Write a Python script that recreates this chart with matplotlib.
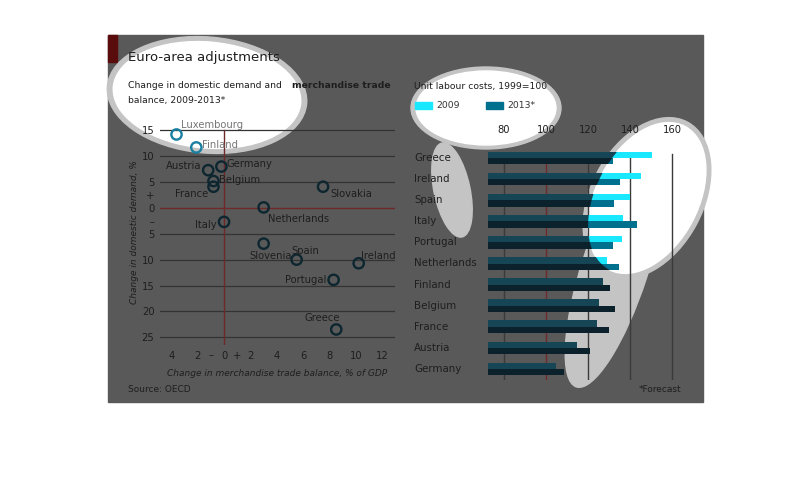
import matplotlib
matplotlib.use("Agg")
import matplotlib.pyplot as plt
from matplotlib.patches import Rectangle, Ellipse
import numpy as np

# ---- data ----
countries_sc = ["Luxembourg", "Finland", "Austria", "Germany", "Belgium", "France", "Slovakia",
                "Netherlands", "Italy", "Slovenia", "Spain", "Ireland", "Portugal", "Greece"]
trade = [-3.6, -2.1, -1.2, -0.2, -0.8, -0.8, 7.5, 3.0, 0.0, 3.0, 5.5, 10.2, 8.3, 8.5]
demand = [14.2, 11.7, 7.3, 8.0, 5.2, 4.1, 4.1, 0.1, -2.7, -6.9, -10.0, -10.7, -13.9, -23.5]
label_pos = {  # offsets in points, alignment
    "Luxembourg": (3, 7, "left"), "Finland": (4, 2, "left"), "Austria": (-5, 3, "right"),
    "Germany": (4, 2, "left"), "Belgium": (4, 1, "left"), "France": (-4, -5, "right"),
    "Slovakia": (5, -5, "left"), "Netherlands": (3, -8, "left"), "Italy": (-5, -2, "right"),
    "Slovenia": (5, -9, "center"), "Spain": (6, 6, "center"), "Ireland": (14, 5, "center"),
    "Portugal": (-5, 0, "right"), "Greece": (-10, 8, "center"),
}

countries_bar = ["Greece", "Ireland", "Spain", "Italy", "Portugal", "Netherlands", "Finland",
                 "Belgium", "France", "Austria", "Germany"]
ulc_2009 = [150.5, 145, 140, 136.5, 136.3, 129, 127, 125.2, 124.4, 114.8, 104.9]
ulc_2013 = [131.7, 135, 132.4, 143.5, 131.7, 134.6, 130.3, 132.7, 130.2, 120.8, 108.5]

W, H = 810, 496
fig = plt.figure(figsize=(8.1, 4.96), dpi=100)
fig.patch.set_facecolor("white")

def ax_px(x0, y0, x1, y1, **kw):
    return fig.add_axes([x0 / W, 1 - y1 / H, (x1 - x0) / W, (y1 - y0) / H], **kw)

bg = ax_px(0, 0, W, H)
bg.set_xlim(0, W); bg.set_ylim(H, 0); bg.axis("off")
bg.add_patch(Rectangle((108, 35), 595, 367, color="#595959", zorder=0))
bg.add_patch(Rectangle((108, 35), 9, 27, color="#5a0b0b", zorder=1))

GREY = "#c4c4c4"
# blob 1
bg.add_patch(Ellipse((207, 95), 200, 116, angle=5, color=GREY, zorder=2))
blob1 = Ellipse((207, 95), 188, 106, angle=5, color="white", zorder=3)
bg.add_patch(blob1)
# blob 2
bg.add_patch(Ellipse((452, 190), 36, 96, angle=-12, color=GREY, zorder=2))
bg.add_patch(Ellipse((486, 108), 150, 82, angle=0, color=GREY, zorder=2))
blob2 = Ellipse((486, 108), 140, 74, angle=0, color="white", zorder=3)
bg.add_patch(blob2)
# blob 3
bg.add_patch(Ellipse((615, 268), 250, 66, angle=-72, color=GREY, zorder=2))
bg.add_patch(Ellipse((647, 198), 172, 112, angle=-62, color=GREY, zorder=2))
blob3 = Ellipse((647, 198), 162, 102, angle=-62, color="white", zorder=3)
bg.add_patch(blob3)

TXT = "#1e1e1e"
FS = 6.7
bg.text(128, 58, "Euro-area adjustments", fontsize=9.5, color=TXT, va="center", zorder=5)
bg.text(128, 86, "Change in domestic demand and ", fontsize=FS, color=TXT, va="center", zorder=5)
bg.text(292, 86, "merchandise trade", fontsize=FS, color=TXT, va="center", fontweight="bold", zorder=5)
bg.text(128, 100, "balance, 2009-2013*", fontsize=FS, color=TXT, va="center", zorder=5)
bg.text(414, 86, "Unit labour costs, 1999=100", fontsize=FS, color=TXT, va="center", zorder=5)
bg.add_patch(Rectangle((415, 102), 17, 7, color="#19e8ff", zorder=5))
bg.text(436, 105.5, "2009", fontsize=FS, color="#333333", va="center", zorder=5)
bg.add_patch(Rectangle((486, 102), 17, 7, color="#00708f", zorder=5))
bg.text(507, 105.5, "2013*", fontsize=FS, color="#333333", va="center", zorder=5)
bg.text(128, 389, "Source: OECD", fontsize=6.5, color=TXT, va="center", zorder=5)
bg.text(681, 389, "*Forecast", fontsize=6.5, color=TXT, va="center", ha="right", zorder=5)

# ---- scatter ----
ax = ax_px(160, 120, 395, 345)
ax.patch.set_alpha(0)
ax.set_xlim(-4.85, 12.95); ax.set_ylim(-26.5, 17)
for s in ax.spines.values(): s.set_visible(False)
for yv in range(15, -30, -5):
    if yv != 0:
        ax.axhline(yv, color="#333333", lw=0.9, zorder=1)
ax.axhline(0, color="#6e2a2a", lw=1, zorder=1)
ax.axvline(0, color="#6e2a2a", lw=1, ymax=(15 - (-26.5)) / 43.5, zorder=1)
ax.set_yticks(list(range(15, -30, -5)) + [2.5, -2.5])
ax.set_yticklabels([str(abs(v)) for v in range(15, -30, -5)] + ["+", "–"])
ax.set_xticks([-4, -2, -1, 0, 1, 2, 4, 6, 8, 10, 12])
ax.set_xticklabels(["4", "2", "–", "0", "+", "2", "4", "6", "8", "10", "12"])
ax.tick_params(length=0, labelsize=7.2, labelcolor=TXT, pad=4)
ax.set_xlabel("Change in merchandise trade balance, % of GDP", fontsize=6.5, style="italic", color=TXT, labelpad=6)
ax.set_ylabel("Change in domestic demand, %", fontsize=6.5, style="italic", color=TXT, labelpad=2)
for c, x, y in zip(countries_sc, trade, demand):
    bright = c in ("Luxembourg", "Finland")
    ax.scatter(x, y, s=55, facecolor="none", edgecolor="#1a7fa0" if bright else "#0d2630",
               lw=1.7, zorder=4, clip_on=False)
    dx, dy, ha = label_pos[c]
    ax.annotate(c, (x, y), xytext=(dx, dy), textcoords="offset points", ha=ha, va="center",
                fontsize=7.2, color="#777777" if bright else TXT, zorder=5)

# ---- bars ----
bx = ax_px(488, 146, 680, 380)
bx.patch.set_alpha(0)
bx.set_xlim(72.4, 163.8); bx.set_ylim(10.52, -0.57)
for s in bx.spines.values(): s.set_visible(False)
for xv in [80, 120, 140, 160]:
    bx.axvline(xv, color="#3a3a3a", lw=1, ymax=(10.52 + 0.2) / 11.09, zorder=1)
bx.axvline(100, color="#6e2a2a", lw=1, ymax=(10.52 + 0.2) / 11.09, zorder=1)
bx.xaxis.tick_top()
bx.set_xticks([80, 100, 120, 140, 160])
bx.tick_params(length=0, labelsize=7.2, labelcolor=TXT, pad=8)
bx.set_yticks(range(len(countries_bar)))
bx.set_yticklabels([])
for i, c in enumerate(countries_bar):
    bg.text(414, 158 + i * 21.1, c, fontsize=7.4, color=TXT, va="center", zorder=5)
yy = np.arange(len(countries_bar))
h = 0.3
bx.barh(yy - h / 2, np.array(ulc_2009) - 72.4, left=72.4, height=h, color="#164556", zorder=2)
bx.barh(yy + h / 2, np.array(ulc_2013) - 72.4, left=72.4, height=h, color="#0b222c", zorder=2)
b1 = bx.barh(yy - h / 2, np.array(ulc_2009) - 72.4, left=72.4, height=h, color="#19e8ff", zorder=3)
b2 = bx.barh(yy + h / 2, np.array(ulc_2013) - 72.4, left=72.4, height=h, color="#00708f", zorder=3)
for r in list(b1) + list(b2):
    r.set_clip_path(blob3)

fig.savefig("out.png", dpi=100)
